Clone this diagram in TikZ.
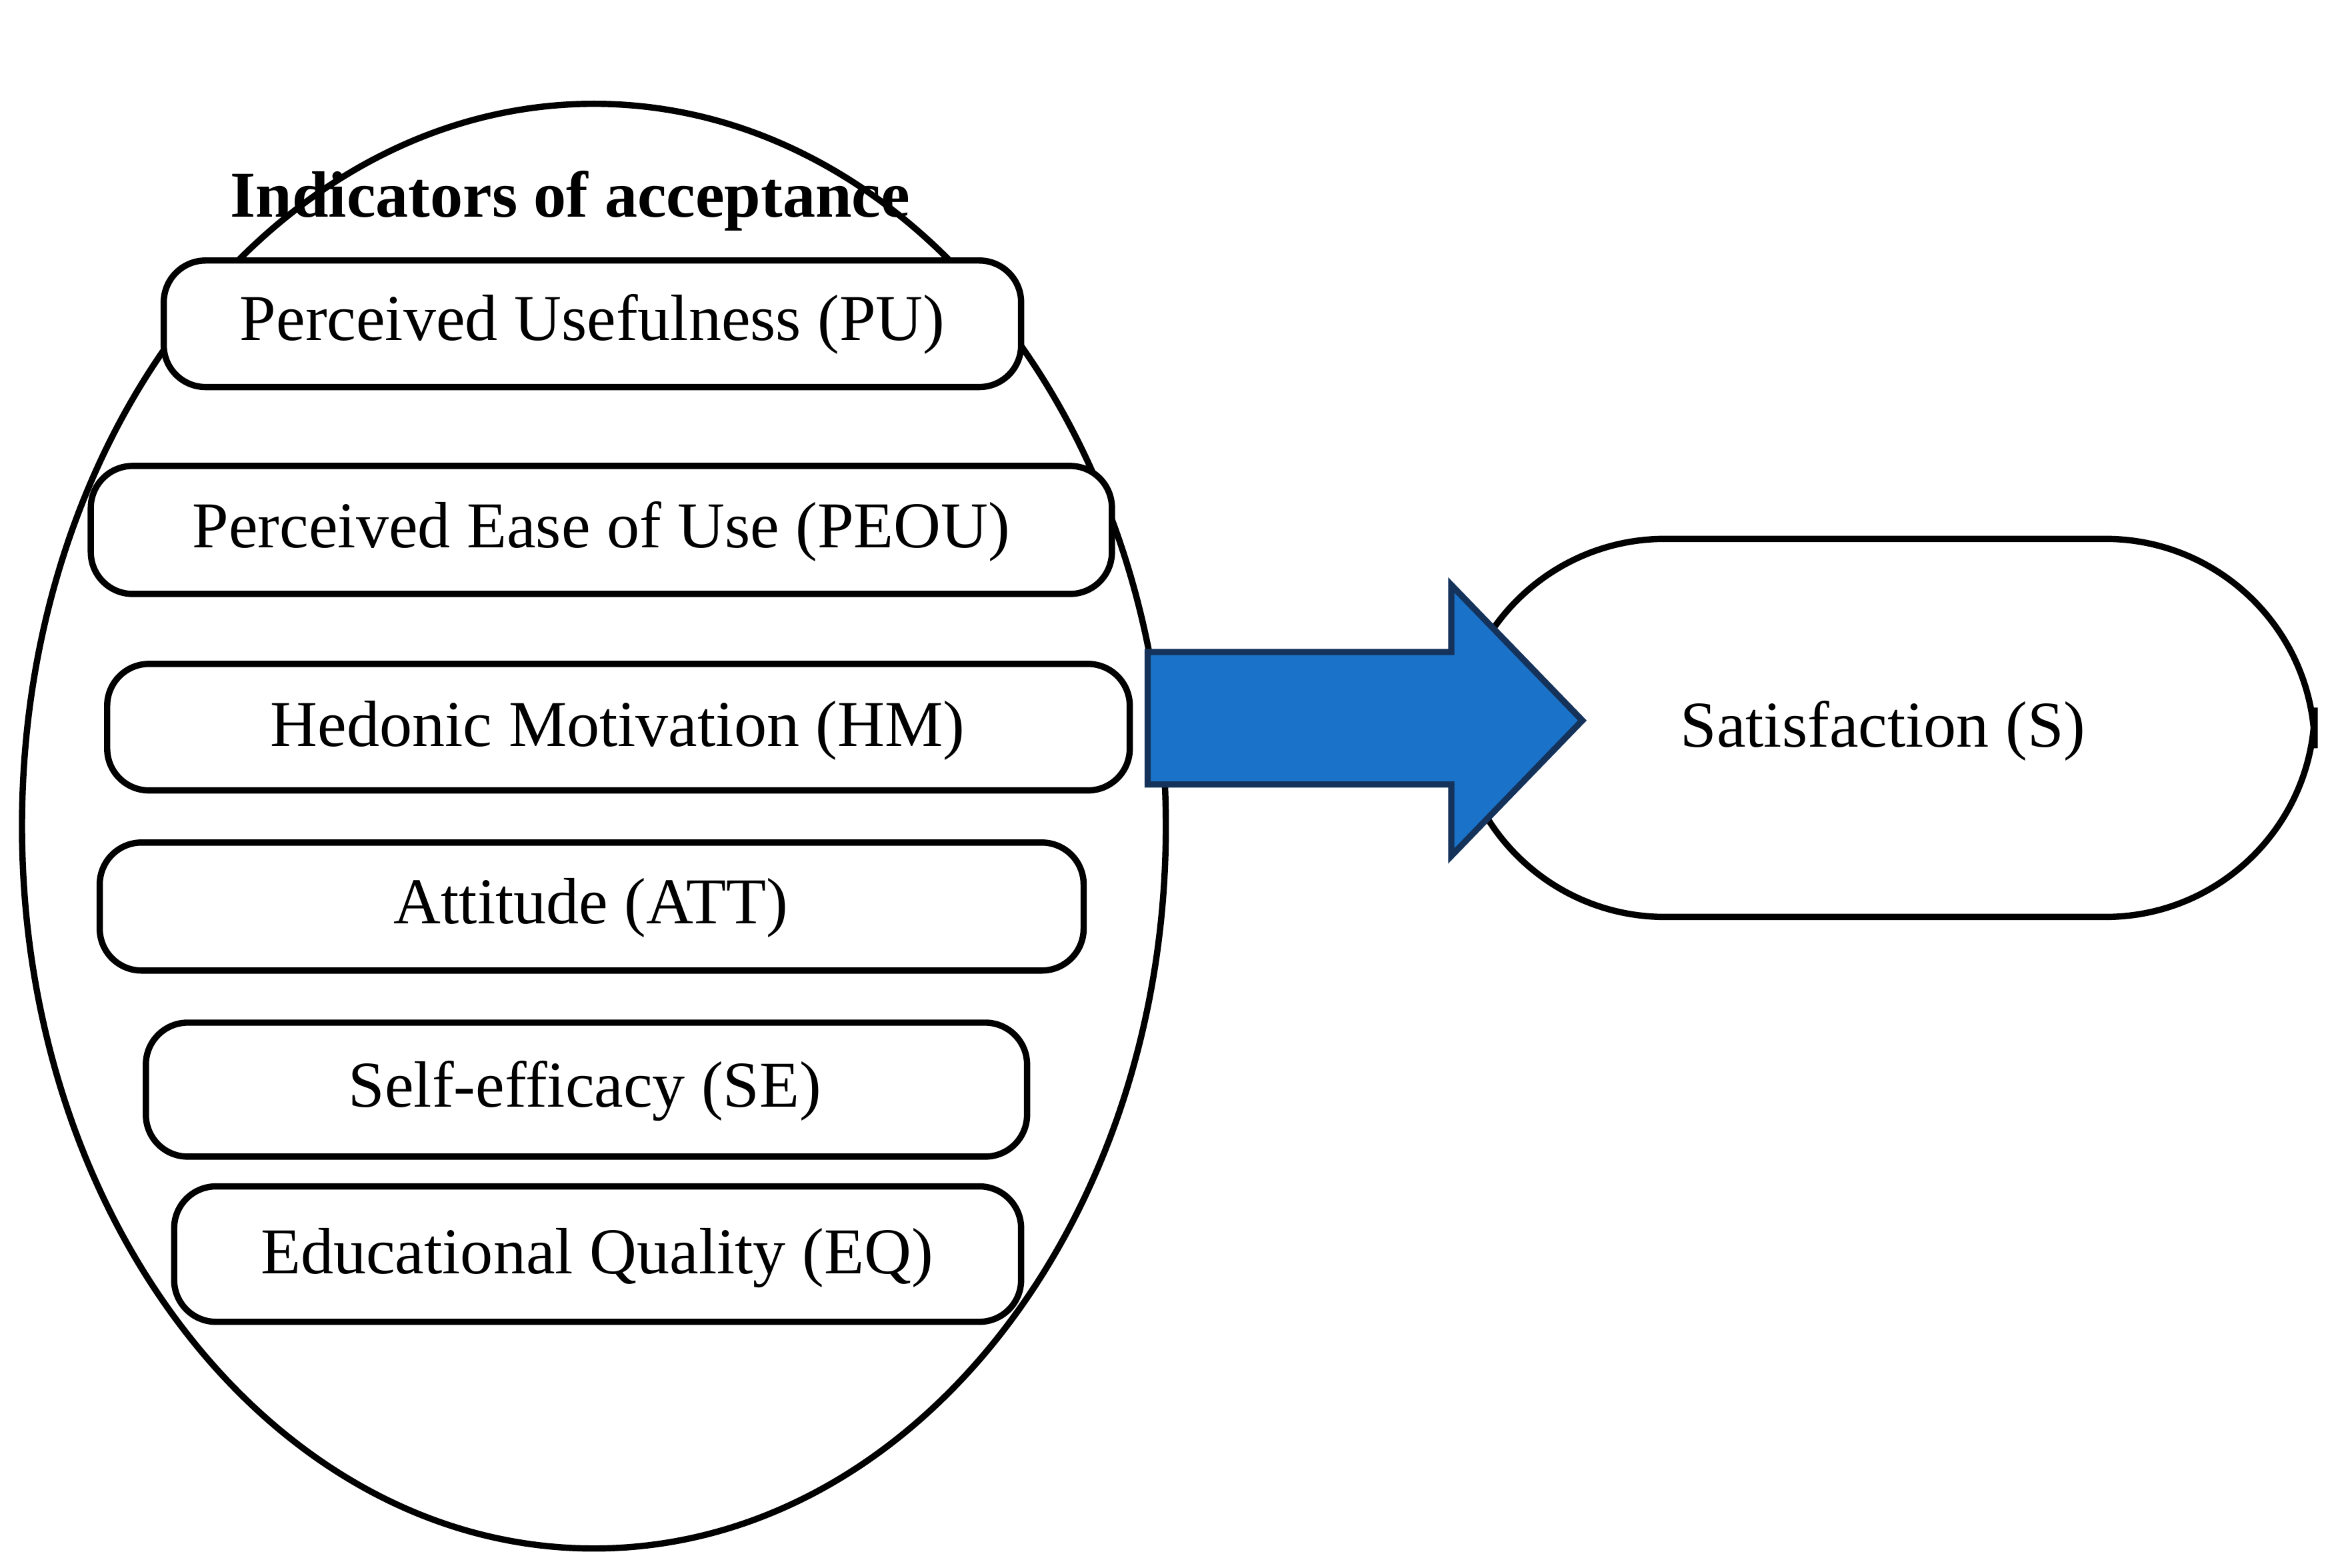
\documentclass[tikz,border=0pt]{standalone}
\usepackage{fontspec}
\setmainfont{Liberation Serif}
\usetikzlibrary{shapes.geometric}
\begin{document}
\begin{tikzpicture}[x=0.01cm,y=-0.01cm,
  box/.style={draw,line width=1.2pt,rounded corners=8pt},
  lbl/.style={font=\fontsize{12.5}{14}\selectfont}]
\useasboundingbox (0,0) rectangle (1568,1053);
\node[draw,ellipse,line width=1.2pt,minimum width=7.68cm,minimum height=9.7cm] (ell) at (399,555) {};
\node[font=\fontsize{12.5}{14}\selectfont\bfseries] (title) at (383,135) {Indicators of acceptance};
\draw[box,fill=white] (110,175) rectangle (686,260); \node[lbl] (pu) at (398,218) {Perceived Usefulness (PU)};
\draw[box,fill=white] (61,313) rectangle (747,399); \node[lbl] (peou) at (404,357) {Perceived Ease of Use (PEOU)};
\draw[box,fill=white] (72,446) rectangle (759,531); \node[lbl] (hm) at (415,491) {Hedonic Motivation (HM)};
\draw[box,fill=white] (67,566) rectangle (728,652); \node[lbl] (att) at (397,610) {Attitude (ATT)};
\draw[box,fill=white] (98,687) rectangle (690,777); \node[lbl] (se) at (393,733) {Self-efficacy (SE)};
\draw[box,fill=white] (117,797) rectangle (686,888); \node[lbl] (eq) at (401,845) {Educational Quality (EQ)};
\draw[line width=1.2pt,rounded corners=40pt] (978,362) rectangle (1555,616);
\node[lbl] (s) at (1265,491) {Satisfaction (S)};
\draw[line width=1.2pt,draw={rgb,255:red,20;green,50;blue,90},fill={rgb,255:red,26;green,115;blue,200}]
 (771,438) -- (975,438) -- (975,393) -- (1063,484) -- (975,575) -- (975,527) -- (771,527) -- cycle;
\end{tikzpicture}
\end{document}
